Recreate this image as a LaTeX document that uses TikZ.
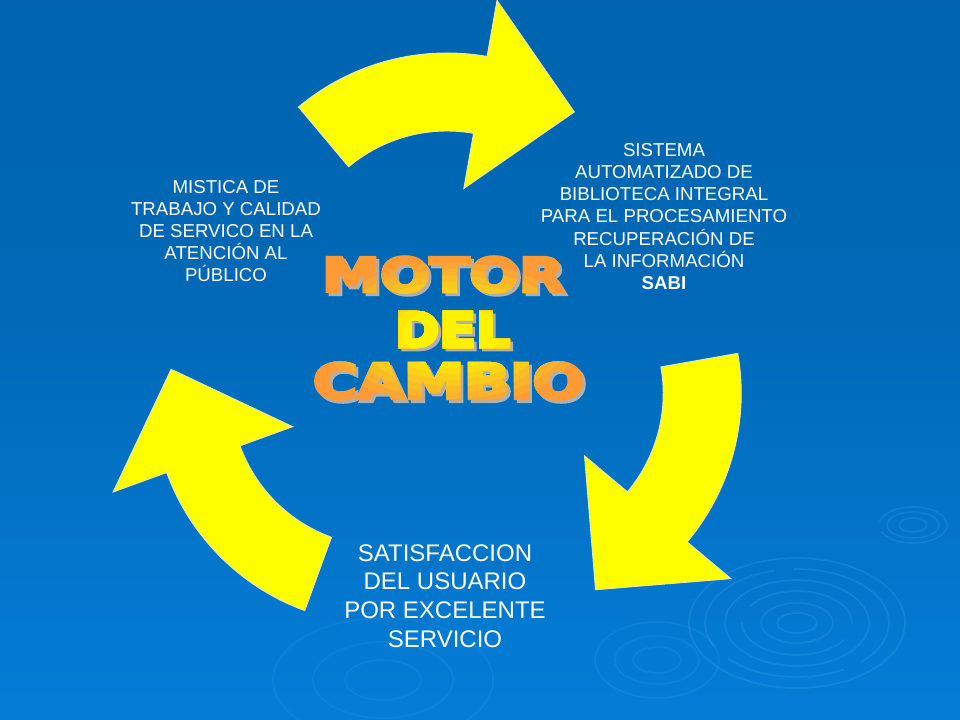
\documentclass[tikz,border=0pt]{standalone}
\usepackage{graphicx}
\usepackage{fontspec}
\setmainfont{Liberation Sans}
\newfontfamily\titlefont{DejaVu Sans}[UprightFont={* Bold}, FakeBold=6]

\definecolor{bgtop}{HTML}{0060A8}
\definecolor{bgmid}{HTML}{0068B6}
\definecolor{bglow}{HTML}{047AD2}
\definecolor{bgbot}{HTML}{0A8EEA}
\definecolor{arrowyellow}{HTML}{FFFF00}
\definecolor{arrowedge}{HTML}{E6E6B8}
\definecolor{titleorange}{HTML}{FF9A35}
\definecolor{titleshadow}{HTML}{B0B0B0}
\definecolor{ripple}{HTML}{45AEF6}

\pgfdeclareverticalshading{bgshade}{100bp}{color(0bp)=(bgbot); color(30bp)=(bglow); color(55bp)=(bgmid); color(100bp)=(bgtop)}

\tikzset{
  arrowshape/.style={fill=arrowyellow, draw=arrowedge, line width=0.7pt, line join=miter},
  bodytext/.style={text=white, align=center, inner sep=0pt, font=\fontsize{14}{16.6}\selectfont},
  bigtext/.style={text=white, align=center, inner sep=0pt, font=\fontsize{18}{21.5}\selectfont},
  ripplering/.style={draw=ripple, line width=1.3pt, opacity=0.22},
  titleword/.style={inner sep=0pt, font=\titlefont},
}

\newcommand\curvedarrow[1]{%
  \begin{scope}[shift={(447,363)}, rotate=#1, shift={(0,73)}]
    \path[arrowshape] (130:231) arc[start angle=130, end angle=80, radius=231]
      -- (80:288) -- (53.5:214) -- (80:97) -- (80:153)
      arc[start angle=80, end angle=130, radius=153] -- cycle;
  \end{scope}}

\newcommand\titlewords[2]{%
  \begin{scope}[color=#1]
  \node[titleword, color=#1] (motor#2) at (443,445.5) {\pgfsetstrokecolor{#1}\resizebox{181.5pt}{26.25pt}{MOTOR}};
  \node[titleword, color=#1] (del#2) at (452.5,390.5) {\pgfsetstrokecolor{#1}\resizebox{86.25pt}{26.25pt}{DEL}};
  \node[titleword, color=#1] (cambio#2) at (448.5,339) {\pgfsetstrokecolor{#1}\resizebox{203.25pt}{27pt}{CAMBIO}};
  \end{scope}}

\begin{document}
\begin{tikzpicture}[x=0.75pt,y=0.75pt]
\useasboundingbox (0,0) rectangle (960,720);
\clip (0,0) rectangle (960,720);
\shade[shading=bgshade] (0,0) rectangle (960,720);

% ripples
\foreach \rx/\ry in {14/7, 26/13} \draw[ripplering] (913,195) ellipse [x radius=\rx, y radius=\ry];
\draw[ripplering, dash pattern=on 60pt off 8pt] (913,195) ellipse [x radius=34, y radius=18];
\foreach \rx/\ry in {20/10, 36/20, 72/43, 108/65} \draw[ripplering] (797,97) ellipse [x radius=\rx, y radius=\ry];
\foreach \rx/\ry in {55/32, 92/54} \draw[ripplering, dash pattern=on 90pt off 14pt] (797,97) ellipse [x radius=\rx, y radius=\ry];
\foreach \rx/\ry in {24/13, 42/24, 62/38} \draw[ripplering, opacity=0.15] (657,60) ellipse [x radius=\rx, y radius=\ry];
\foreach \rx/\ry in {38/20, 70/38, 110/62} \draw[ripplering, opacity=0.12] (383,40) ellipse [x radius=\rx, y radius=\ry];

% arrows
\curvedarrow{0}
\curvedarrow{-120}
\curvedarrow{120}

% title
\begin{scope}[shift={(3,-3)}]
  \titlewords{titleshadow}{s}
\end{scope}
\titlewords{titleorange}{0}
\foreach \k in {1,...,8} {
  \pgfmathsetmacro\rr{0.62-0.055*(\k-1)}
  \pgfmathtruncatemacro\mix{\k*100/8}
  \colorlet{layercolor}{yellow!\mix!titleorange}
  \begin{scope}
    \clip (452,386) ellipse [x radius={210*\rr}, y radius={115*\rr}];
    \titlewords{layercolor}{\k}
  \end{scope}
}

% texts
\node[bodytext] (sabi) at (664,503.5) {SISTEMA\\AUTOMATIZADO DE\\BIBLIOTECA INTEGRAL\\PARA EL PROCESAMIENTO\\RECUPERACIÓN DE\\LA INFORMACIÓN\\\textbf{SABI}};
\node[bodytext] (mistica) at (226,489) {MISTICA DE\\TRABAJO Y CALIDAD\\DE SERVICO EN LA\\ATENCIÓN AL\\PÚBLICO};
\node[bigtext] (satisf) at (445,124) {SATISFACCION\\DEL USUARIO\\POR EXCELENTE\\SERVICIO};
\end{tikzpicture}
\end{document}
